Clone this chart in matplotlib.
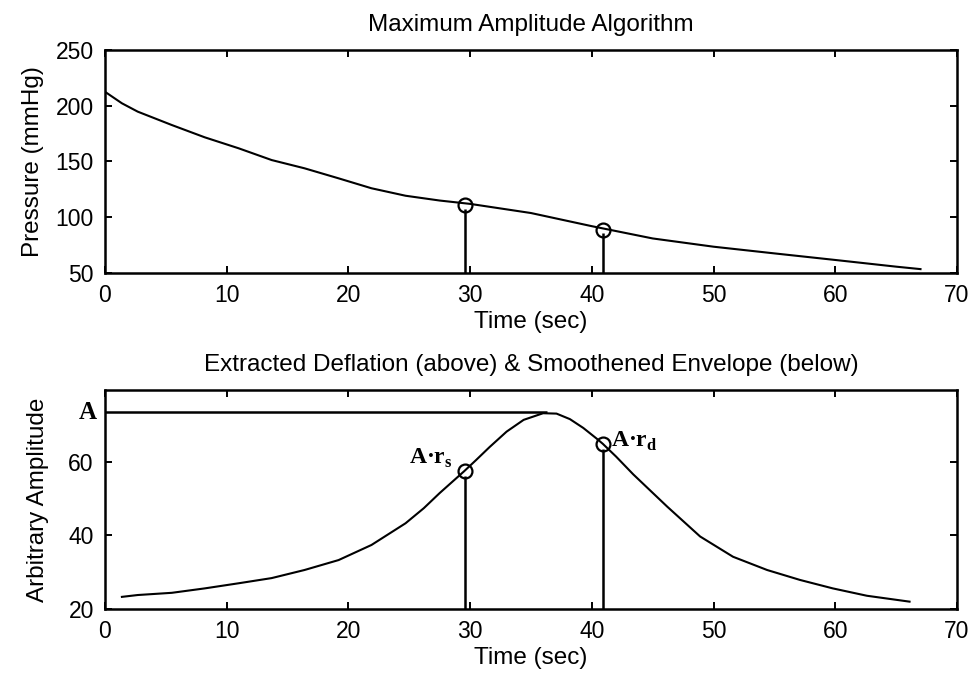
import matplotlib
matplotlib.use('Agg')
import matplotlib.pyplot as plt

plt.rcParams['font.family'] = ['Liberation Sans', 'DejaVu Sans']
plt.rcParams['mathtext.fontset'] = 'custom'
plt.rcParams['mathtext.rm'] = 'Liberation Serif'
plt.rcParams['mathtext.bf'] = 'Liberation Serif:bold'

# cuff pressure during deflation
t_press = [0, 1.4, 2.7, 5.5, 8.2, 11.0, 13.7, 16.4, 19.2, 21.9, 24.7, 27.5, 30, 35,
           40, 45, 50, 55, 60, 65, 67]
pressure = [212.6, 202.2, 194.7, 182.7, 171.7, 161.8, 151.3, 143.9, 134.9, 126.0, 119.3, 115.0, 112, 103.8,
            92.0, 81.0, 73.6, 67.6, 61.7, 55.7, 53.5]

# smoothed oscillation envelope
t_env = [1.4, 2.7, 5.5, 8.2, 11.0, 13.7, 16.4, 19.2, 21.9, 24.7, 26.2, 27.5, 29.5, 30.5, 31.6,
         33.0, 34.4, 36.0, 37.1, 38.2, 39.3, 40.4, 40.9, 42.0, 43.4, 46.2, 48.9, 51.6,
         54.4, 57.1, 59.8, 62.6, 66.1]
envelope = [23.3, 23.8, 24.4, 25.6, 27.0, 28.4, 30.6, 33.3, 37.4, 43.3, 47.4, 51.5, 57.4, 60.5, 64.0,
            68.2, 71.4, 73.2, 73.1, 71.6, 69.2, 66.3, 64.9, 61.4, 56.6, 47.8, 39.7, 34.2,
            30.6, 27.9, 25.6, 23.6, 22.0]

amp_max = 73.4
t_peak = 36.3
t_sys = 29.6
t_dia = 40.9
p_sys = 111
p_dia = 89
env_sys = 57.4
env_dia = 64.9

fig = plt.figure(figsize=(9.71, 6.8), dpi=100)
ax1 = fig.add_axes([0.108, 0.5985, 0.8776, 0.328])
ax2 = fig.add_axes([0.108, 0.1044, 0.8776, 0.322])

fs = 17.5
fs_tick = 16.5

def style(ax):
    ax.tick_params(direction='in', top=True, right=True, length=5, width=1.4,
                   labelsize=fs_tick, pad=8)
    for s in ax.spines.values():
        s.set_linewidth(1.8)
    ax.set_xlim(0, 70)
    ax.set_xticks(range(0, 71, 10))
    ax.set_xlabel('Time (sec)', fontsize=fs, labelpad=3)

# top: pressure
ax1.plot(t_press, pressure, color='black', lw=1.5)
ax1.plot([t_sys, t_dia], [p_sys, p_dia], 'o', mfc='none', mec='black', ms=10, mew=1.6)
ax1.vlines([t_sys, t_dia], 50, [p_sys - 3.5, p_dia - 3.5], color='black', lw=1.8)
ax1.set_ylim(50, 250)
ax1.set_yticks([50, 100, 150, 200, 250])
ax1.set_ylabel('Pressure (mmHg)', fontsize=fs, labelpad=8)
ax1.set_title('Maximum Amplitude Algorithm', fontsize=fs, pad=14)
style(ax1)

# bottom: envelope
ax2.plot(t_env, envelope, color='black', lw=1.5)
ax2.hlines(amp_max, 0, t_peak, color='black', lw=1.8)
ax2.plot([t_sys, t_dia], [env_sys, env_dia], 'o', mfc='none', mec='black', ms=10, mew=1.6)
ax2.vlines([t_sys, t_dia], 20, [env_sys - 1.3, env_dia - 1.3], color='black', lw=1.8)
ax2.set_ylim(20, 79.5)
ax2.set_yticks([20, 40, 60])
ax2.set_ylabel('Arbitrary Amplitude', fontsize=fs, labelpad=14)
ax2.set_title('Extracted Deflation (above) & Smoothened Envelope (below)', fontsize=fs, pad=14)
style(ax2)

ax2.text(-0.009, amp_max, 'A', transform=ax2.get_yaxis_transform(), fontsize=18,
         family='Liberation Serif', fontweight='bold', ha='right', va='center')
ax2.annotate(r'A·r$_\mathbf{s}$', (t_sys, env_sys), xytext=(-9, 1), textcoords='offset points',
             fontsize=17, family='Liberation Serif', fontweight='bold', ha='right', va='bottom')
ax2.annotate(r'A·r$_\mathbf{d}$', (t_dia, env_dia), xytext=(6, -7), textcoords='offset points',
             fontsize=17, family='Liberation Serif', fontweight='bold', ha='left', va='bottom')

fig.savefig('out.png', dpi=100)
